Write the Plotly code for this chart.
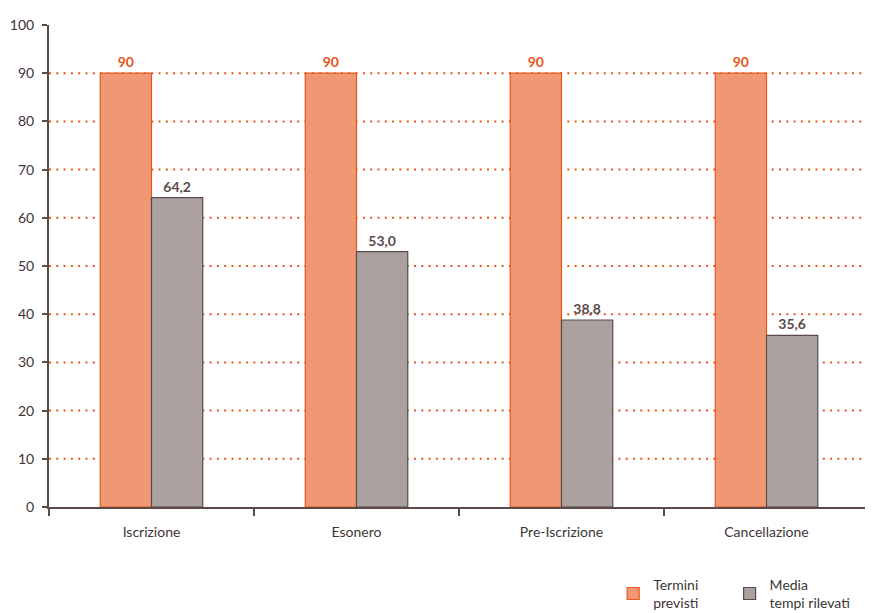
import plotly.graph_objects as go

categories = ["Iscrizione", "Esonero", "Pre-Iscrizione", "Cancellazione"]
termini_previsti = [90, 90, 90, 90]
media_tempi = [64.2, 53.0, 38.8, 35.6]
grid_values = [10, 20, 30, 40, 50, 60, 70, 80, 90]
y_ticks = [0, 10, 20, 30, 40, 50, 60, 70, 80, 90, 100]

def fmt(v, dec):
    return (f"{v:.{dec}f}").replace(".", ",")

FONT = "Lato, 'Open Sans', sans-serif"
ORANGE_FILL = "#ef9873"
ORANGE_LINE = "#e8541a"
GREY_FILL = "#aba2a0"
GREY_LINE = "#5a4a4a"
AXIS = "#5a4a4a"

fig = go.Figure()
fig.add_trace(go.Bar(
    x=categories, y=termini_previsti, name="Termini<br>previsti",
    marker=dict(color=ORANGE_FILL, line=dict(color=ORANGE_LINE, width=1.2)),
    text=[fmt(v, 0) for v in termini_previsti], textposition="outside",
    textfont=dict(family=FONT, size=14, color=ORANGE_LINE, weight="bold"),
    cliponaxis=False, legend="legend",
))
fig.add_trace(go.Bar(
    x=categories, y=media_tempi, name="Media<br>tempi rilevati",
    marker=dict(color=GREY_FILL, line=dict(color=GREY_LINE, width=1.2)),
    text=[fmt(v, 1) for v in media_tempi], textposition="outside",
    textfont=dict(family=FONT, size=14, color=GREY_LINE, weight="bold"),
    cliponaxis=False, legend="legend2",
))

for g in grid_values:
    fig.add_shape(type="line", xref="paper", yref="y", x0=0, x1=1, y0=g, y1=g,
                  line=dict(color=ORANGE_LINE, width=2, dash="2px,5.3px"), layer="below")

legend_common = dict(orientation="h", xanchor="left", y=-0.232, yanchor="bottom",
                     font=dict(family=FONT, size=14, color="#3d3535"),
                     bgcolor="rgba(0,0,0,0)")

fig.update_layout(
    width=873, height=613,
    margin=dict(l=41, r=12, t=17, b=114, autoexpand=False),
    paper_bgcolor="white", plot_bgcolor="white",
    barmode="group", bargap=0.5, bargroupgap=0,
    font=dict(family=FONT, size=13, color="#3d3535"),
    showlegend=True,
    legend=dict(x=0.688, **legend_common),
    legend2=dict(x=0.830, **legend_common),
    xaxis=dict(
        type="category", range=[-0.5, 3.5], showline=True, linecolor=AXIS, linewidth=2,
        ticks="outside", tickson="boundaries", ticklen=7, tickcolor=AXIS, tickwidth=2,
        showgrid=False, automargin=False, ticklabelstandoff=11,
        tickfont=dict(family=FONT, size=14, color="#3d3535"),
    ),
    yaxis=dict(
        range=[0, 100], tickvals=y_ticks, showline=True, linecolor=AXIS, linewidth=2,
        ticks="outside", ticklen=5, tickcolor=AXIS, tickwidth=2, showgrid=False,
        zeroline=False, automargin=False, ticklabelstandoff=5,
        tickfont=dict(family=FONT, size=14, color="#3d3535"),
    ),
)

fig.write_html("out.html")
